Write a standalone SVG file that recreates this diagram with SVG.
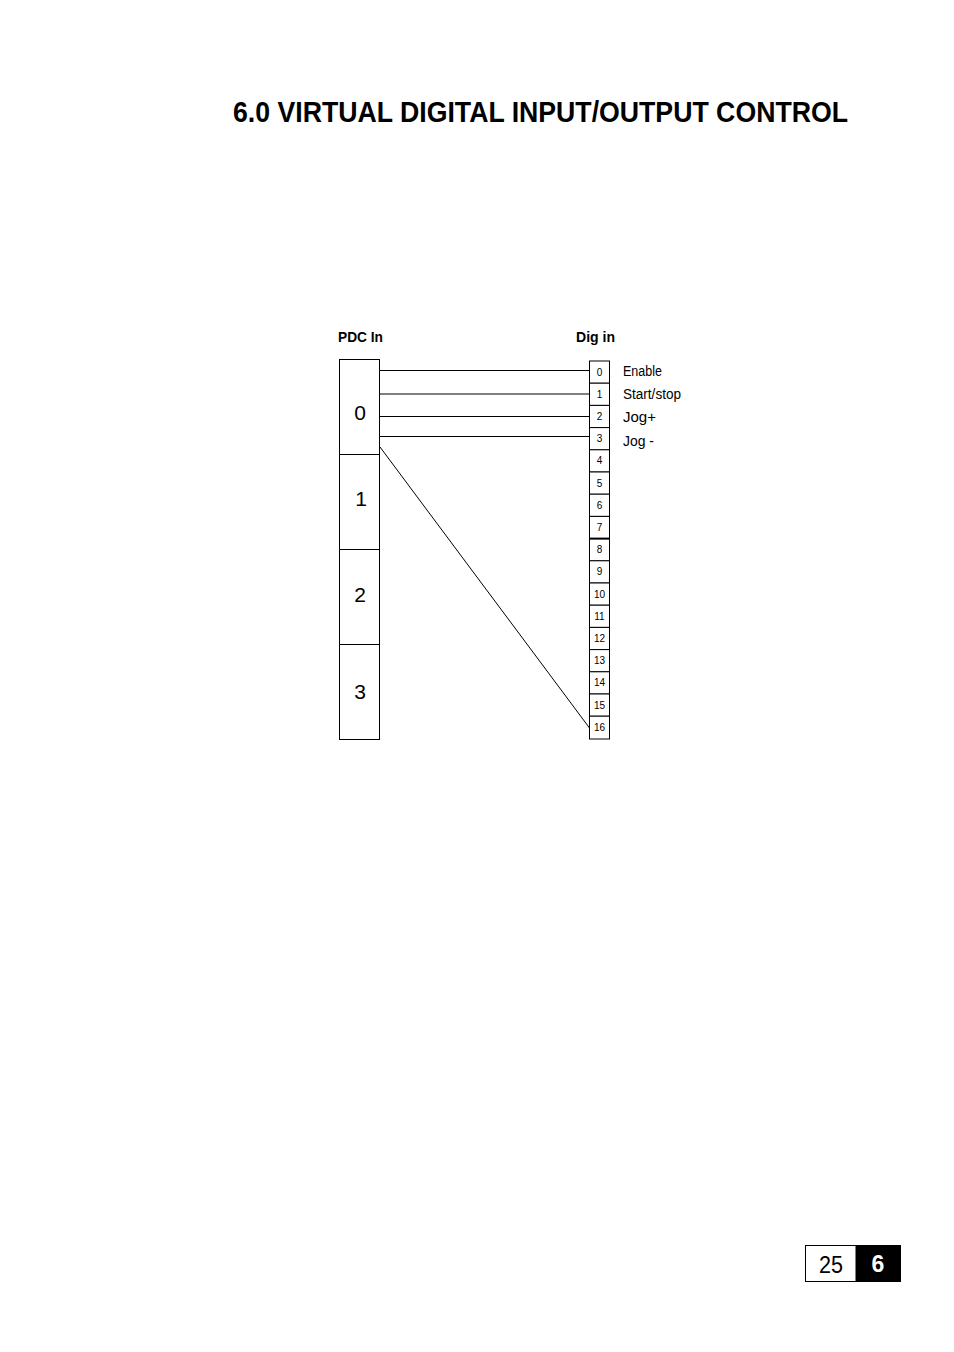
<svg xmlns="http://www.w3.org/2000/svg" width="954" height="1352" viewBox="0 0 954 1352">
<style>
.t{font-family:"Liberation Sans Narrow","Liberation Sans",sans-serif;fill:#000}
.b{font-weight:bold}
.box{fill:#fff;stroke:#000;stroke-width:1}
.w{stroke:#000;stroke-width:1;fill:none}
.n{font-size:10px;text-anchor:middle}
.big{font-size:21px;text-anchor:middle}
.lab{font-size:14px}
</style>
<rect width="954" height="1352" fill="#fff"/>
<text class="t b" x="233" y="122" font-size="29" textLength="615" lengthAdjust="spacingAndGlyphs">6.0 VIRTUAL DIGITAL INPUT/OUTPUT CONTROL</text>
<text class="t b lab" x="338" y="342" textLength="45" lengthAdjust="spacingAndGlyphs">PDC In</text>
<text class="t b lab" x="576" y="342" textLength="39" lengthAdjust="spacingAndGlyphs">Dig in</text>
<g id="pdc">
<rect class="box" x="339.5" y="359.5" width="40" height="95"/>
<rect class="box" x="339.5" y="454.5" width="40" height="95"/>
<rect class="box" x="339.5" y="549.5" width="40" height="95"/>
<rect class="box" x="339.5" y="644.5" width="40" height="95"/>
<text class="t big" x="360" y="420">0</text>
<text class="t big" x="361" y="506">1</text>
<text class="t big" x="360" y="602">2</text>
<text class="t big" x="360" y="699">3</text>
</g>
<g id="digin">
<rect class="box" x="589.5" y="361" width="20" height="22.2"/>
<rect class="box" x="589.5" y="383.2" width="20" height="22.2"/>
<rect class="box" x="589.5" y="405.4" width="20" height="22.2"/>
<rect class="box" x="589.5" y="427.6" width="20" height="22.2"/>
<rect class="box" x="589.5" y="449.8" width="20" height="22.2"/>
<rect class="box" x="589.5" y="472" width="20" height="22.2"/>
<rect class="box" x="589.5" y="494.2" width="20" height="22.2"/>
<rect class="box" x="589.5" y="516.4" width="20" height="22.2"/>
<rect class="box" x="589.5" y="538.6" width="20" height="22.2"/>
<rect class="box" x="589.5" y="560.8" width="20" height="22.2"/>
<rect class="box" x="589.5" y="583" width="20" height="22.2"/>
<rect class="box" x="589.5" y="605.2" width="20" height="22.2"/>
<rect class="box" x="589.5" y="627.4" width="20" height="22.2"/>
<rect class="box" x="589.5" y="649.6" width="20" height="22.2"/>
<rect class="box" x="589.5" y="671.8" width="20" height="22.2"/>
<rect class="box" x="589.5" y="694" width="20" height="22.2"/>
<rect class="box" x="589.5" y="716.2" width="20" height="22.8"/>
<line x1="589.5" y1="538.6" x2="609.5" y2="538.6" stroke="#000" stroke-width="2"/>
<text class="t n" x="599.5" y="375.5">0</text>
<text class="t n" x="599.5" y="397.7">1</text>
<text class="t n" x="599.5" y="419.9">2</text>
<text class="t n" x="599.5" y="442.1">3</text>
<text class="t n" x="599.5" y="464.3">4</text>
<text class="t n" x="599.5" y="486.5">5</text>
<text class="t n" x="599.5" y="508.7">6</text>
<text class="t n" x="599.5" y="530.9">7</text>
<text class="t n" x="599.5" y="553.1">8</text>
<text class="t n" x="599.5" y="575.3">9</text>
<text class="t n" x="599.5" y="597.5">10</text>
<text class="t n" x="599.5" y="619.7">11</text>
<text class="t n" x="599.5" y="641.9">12</text>
<text class="t n" x="599.5" y="664.1">13</text>
<text class="t n" x="599.5" y="686.3">14</text>
<text class="t n" x="599.5" y="708.5">15</text>
<text class="t n" x="599.5" y="731">16</text>
</g>
<g id="labels">
<text class="t lab" x="623" y="376" textLength="39" lengthAdjust="spacingAndGlyphs">Enable</text>
<text class="t lab" x="623" y="399" textLength="58" lengthAdjust="spacingAndGlyphs">Start/stop</text>
<text class="t lab" x="623" y="422" textLength="33" lengthAdjust="spacingAndGlyphs">Jog+</text>
<text class="t lab" x="623" y="446" textLength="31" lengthAdjust="spacingAndGlyphs">Jog -</text>
</g>
<g id="connectors">
<line class="w" x1="379.5" y1="370.5" x2="589.5" y2="370.5"/>
<line class="w" x1="379.5" y1="394" x2="589.5" y2="394"/>
<line class="w" x1="379.5" y1="416.5" x2="589.5" y2="416.5" stroke="#555"/>
<line class="w" x1="379.5" y1="436.5" x2="589.5" y2="436.5" stroke="#555"/>
<line class="w" x1="380" y1="447" x2="589.5" y2="728"/>
</g>
<g id="pagenum">
<rect x="805.5" y="1245.5" width="95" height="36" fill="#fff" stroke="#000"/>
<rect x="856" y="1245.5" width="44.5" height="36" fill="#000" stroke="#000"/>
<text class="t" x="831" y="1273" font-size="23" text-anchor="middle" textLength="24" lengthAdjust="spacingAndGlyphs">25</text>
<text class="t b" x="878" y="1272" font-size="23" text-anchor="middle" fill="#fff" style="fill:#fff">6</text>
</g>
</svg>
